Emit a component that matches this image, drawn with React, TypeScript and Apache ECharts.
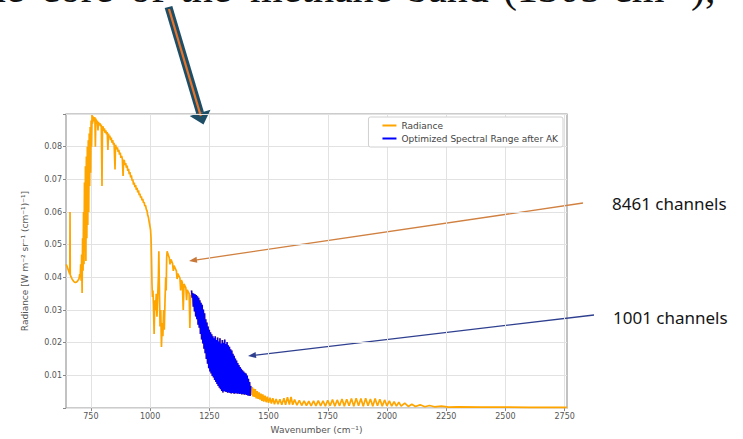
import React, { useEffect, useRef } from "react";
import * as echarts from "echarts";

type Pt = [number, number];

const xTickValues = [750, 1000, 1250, 1500, 1750, 2000, 2250, 2500, 2750];
const seriesNames = ["Radiance", "Optimized Spectral Range after AK"];
const annotationLabels = ["8461 channels", "1001 channels"];
const headlineWords: [string, number][] = [
  ["the", -27], ["core", 41], ["of", 130], ["the", 180], ["methane", 250],
  ["band", 407], ["(1305", 503], ["cm⁻¹),", 613],
];

// CO2 band (645-760 cm-1)
const radianceCO2Band: Pt[] = [
  [645, 0.044], [648, 0.0436], [652, 0.0428], [655, 0.0422], [658, 0.0416], [661, 0.041],
  [662, 0.06], [663, 0.0408], [666, 0.0402], [670, 0.0396], [675, 0.039], [680, 0.0386],
  [685, 0.0384], [690, 0.0386], [695, 0.039], [700, 0.0396], [703, 0.041], [705, 0.04],
  [707, 0.044], [709, 0.039], [711, 0.047], [713, 0.0352], [715, 0.052], [717, 0.042],
  [719, 0.06], [721, 0.044], [723, 0.069], [725, 0.048], [727, 0.074], [729, 0.045],
  [731, 0.077], [733, 0.052], [735, 0.08], [737, 0.056], [739, 0.082], [741, 0.06],
  [743, 0.084], [745, 0.068], [747, 0.086], [749, 0.072], [751, 0.088], [753, 0.08],
  [755, 0.0897], [757, 0.087], [759, 0.0893],
];

// atmospheric window (760-1010 cm-1)
const radianceWindow: Pt[] = [
  [761, 0.0884], [764, 0.0878], [767, 0.089], [769, 0.08], [771, 0.0886], [774, 0.0872],
  [777, 0.088], [780, 0.085], [782, 0.0876], [785, 0.0866], [788, 0.0872], [791, 0.0862],
  [794, 0.0868], [797, 0.068], [799, 0.086], [801, 0.0862], [804, 0.0848], [807, 0.0856],
  [810, 0.0842], [813, 0.085], [816, 0.0838], [819, 0.0845], [822, 0.079], [824, 0.084],
  [827, 0.0828], [830, 0.0834], [833, 0.082], [836, 0.0828], [839, 0.0812], [842, 0.082],
  [845, 0.0806], [848, 0.0812], [852, 0.073], [854, 0.0806], [856, 0.0806], [859, 0.0792],
  [862, 0.0798], [865, 0.0784], [868, 0.079], [871, 0.0776], [874, 0.0782], [877, 0.0766],
  [880, 0.0772], [883, 0.0762], [886, 0.071], [888, 0.0758], [891, 0.0758], [894, 0.0744],
  [897, 0.075], [900, 0.0736], [903, 0.0742], [906, 0.0726], [909, 0.0732], [912, 0.0716],
  [915, 0.0722], [918, 0.0706], [921, 0.0712], [924, 0.0696], [927, 0.07], [930, 0.0684],
  [933, 0.069], [936, 0.0676], [939, 0.0682], [942, 0.0668], [945, 0.0674], [948, 0.066],
  [951, 0.0666], [954, 0.0652], [957, 0.0656], [960, 0.0644], [963, 0.0648], [966, 0.0636],
  [969, 0.064], [972, 0.0628], [975, 0.063], [978, 0.0618], [981, 0.062], [984, 0.0608],
  [987, 0.0604], [990, 0.059], [993, 0.0584], [996, 0.057], [999, 0.0558], [1002, 0.0545],
  [1004, 0.052], [1006, 0.046], [1008, 0.038], [1010, 0.034],
];

// ozone band (1010-1072 cm-1)
const radianceOzone: Pt[] = [
  [1012, 0.036], [1014, 0.032], [1017, 0.0227], [1020, 0.033], [1023, 0.03], [1026, 0.035],
  [1029, 0.028], [1032, 0.034], [1035, 0.04], [1037, 0.048], [1039, 0.038], [1042, 0.025],
  [1045, 0.03], [1048, 0.0187], [1051, 0.026], [1054, 0.022], [1057, 0.03], [1060, 0.024],
  [1063, 0.033], [1066, 0.04], [1068, 0.036], [1070, 0.046], [1072, 0.048],
];

// before the AK-optimised range (1072-1175 cm-1)
const radianceBeforeAK: Pt[] = [
  [1075, 0.0472], [1078, 0.0466], [1081, 0.046], [1084, 0.044], [1087, 0.0455], [1091, 0.045],
  [1095, 0.0442], [1098, 0.042], [1101, 0.0436], [1106, 0.0428], [1111, 0.042], [1114, 0.0395],
  [1117, 0.0412], [1121, 0.0405], [1126, 0.0398], [1129, 0.036], [1132, 0.0392], [1136, 0.0385],
  [1140, 0.03], [1143, 0.038], [1147, 0.0374], [1151, 0.0368], [1154, 0.033], [1157, 0.0362],
  [1161, 0.0356], [1165, 0.035], [1168, 0.0245], [1171, 0.0346], [1174, 0.034],
];

// optimized spectral range after AK (1175-1425 cm-1)
const akRange: Pt[] = [
  [1175, 0.036], [1177.5, 0.0338], [1180, 0.0352], [1182.5, 0.031], [1185, 0.035], [1187.5, 0.0296],
  [1190, 0.0348], [1192.5, 0.028], [1195, 0.0346], [1197.5, 0.0272], [1200, 0.0342], [1202.5, 0.0255],
  [1205, 0.0338], [1207.5, 0.0246], [1210, 0.033], [1212.5, 0.0227], [1215, 0.0322], [1217.5, 0.021],
  [1220, 0.0316], [1222.5, 0.0198], [1225, 0.0302], [1227.5, 0.0182], [1230, 0.029], [1232.5, 0.0168],
  [1235, 0.0272], [1237.5, 0.015], [1240, 0.0262], [1242.5, 0.0136], [1245, 0.025], [1247.5, 0.0122],
  [1250, 0.024], [1252.5, 0.0112], [1255, 0.0232], [1257.5, 0.0106], [1260, 0.0226], [1262.5, 0.0098],
  [1265, 0.022], [1267.5, 0.0094], [1270, 0.0214], [1272.5, 0.0086], [1275, 0.022], [1277.5, 0.008],
  [1280, 0.0208], [1282.5, 0.0074], [1285, 0.0216], [1287.5, 0.0068], [1290, 0.0204], [1292.5, 0.0062],
  [1295, 0.0214], [1297.5, 0.0058], [1300, 0.0198], [1302.5, 0.0052], [1305, 0.0208], [1307.5, 0.0048],
  [1310, 0.02], [1312.5, 0.0052], [1315, 0.021], [1317.5, 0.005], [1320, 0.0196], [1322.5, 0.0049],
  [1325, 0.0202], [1327.5, 0.0047], [1330, 0.0192], [1332.5, 0.0048], [1335, 0.0188], [1337.5, 0.0046],
  [1340, 0.018], [1342.5, 0.0045], [1345, 0.0176], [1347.5, 0.0046], [1350, 0.0166], [1352.5, 0.0045],
  [1355, 0.016], [1357.5, 0.0044], [1360, 0.0152], [1362.5, 0.0046], [1365, 0.0146], [1367.5, 0.0044],
  [1370, 0.0138], [1372.5, 0.0045], [1375, 0.0132], [1377.5, 0.0043], [1380, 0.0126], [1382.5, 0.0044],
  [1385, 0.012], [1387.5, 0.0042], [1390, 0.0116], [1392.5, 0.0043], [1395, 0.0112], [1397.5, 0.0041],
  [1400, 0.0108], [1402.5, 0.0042], [1405, 0.0106], [1407.5, 0.004], [1410, 0.01], [1412.5, 0.0039],
  [1415, 0.009], [1417.5, 0.0038], [1420, 0.008], [1422.5, 0.0037], [1425, 0.0068],
];

// after the AK-optimised range (1425-2760 cm-1)
const radianceAfterAK: Pt[] = [
  [1428, 0.004], [1431, 0.0064], [1434, 0.0036], [1437, 0.006], [1440, 0.0034], [1444, 0.0058],
  [1448, 0.003], [1452, 0.0052], [1456, 0.0028], [1460, 0.0048], [1464, 0.0026], [1468, 0.0044],
  [1472, 0.0022], [1476, 0.0042], [1480, 0.002], [1485, 0.0038], [1490, 0.0018], [1495, 0.0035],
  [1500, 0.0016], [1506, 0.0032], [1512, 0.0014], [1518, 0.003], [1525, 0.0012], [1532, 0.0028],
  [1540, 0.0012], [1548, 0.0027], [1556, 0.001], [1565, 0.003], [1572, 0.001], [1580, 0.0033],
  [1588, 0.0011], [1595, 0.0034], [1602, 0.001], [1610, 0.0026], [1620, 0.0009], [1630, 0.0024],
  [1640, 0.0008], [1650, 0.0022], [1660, 0.0008], [1670, 0.0021], [1680, 0.0007], [1690, 0.0022],
  [1700, 0.0007], [1710, 0.0023], [1720, 0.0007], [1730, 0.0022], [1740, 0.0006], [1750, 0.0024],
  [1760, 0.0007], [1770, 0.0026], [1780, 0.0006], [1790, 0.0025], [1800, 0.0007], [1810, 0.0028],
  [1820, 0.0006], [1830, 0.0027], [1840, 0.0007], [1850, 0.0029], [1860, 0.0006], [1870, 0.003],
  [1880, 0.0007], [1890, 0.0029], [1900, 0.0006], [1910, 0.003], [1920, 0.0007], [1930, 0.0028],
  [1940, 0.0006], [1950, 0.0029], [1960, 0.0007], [1970, 0.0027], [1980, 0.0006], [1990, 0.0025],
  [2000, 0.0007], [2010, 0.0022], [2020, 0.0006], [2030, 0.002], [2040, 0.0006], [2050, 0.0018],
  [2060, 0.0006], [2075, 0.0015], [2090, 0.0005], [2105, 0.0012], [2120, 0.0005], [2140, 0.001],
  [2160, 0.0004], [2180, 0.0008], [2200, 0.0004], [2230, 0.0006], [2260, 0.0003], [2300, 0.0004],
  [2400, 0.0003], [2500, 0.0003], [2600, 0.0002], [2700, 0.0002], [2760, 0.0002],
];

const radiance: Pt[] = [
  ...radianceCO2Band, ...radianceWindow, ...radianceOzone, ...radianceBeforeAK,
  ...akRange, ...radianceAfterAK,
];

const DARK = "#1e4d66";
const ARROW_ORANGE = "#e8742a";

function buildGraphic() {
  const g: any[] = [];
  headlineWords.forEach(([w, x]) => {
    g.push({
      type: "text", x, y: -12, silent: true,
      style: { text: w, fill: "#111", fontSize: 42, fontFamily: "Liberation Serif", align: "left", verticalAlign: "middle" },
    });
  });
  // big block arrow
  g.push({ type: "polygon", silent: true, shape: { points: [[172.3, 5.9], [203.9, 111.9], [196.3, 114.1], [164.7, 8.1]] }, style: { fill: DARK } });
  g.push({ type: "polygon", silent: true, shape: { points: [[210.5, 109.8], [203.5, 124.5], [189.7, 116.1]] }, style: { fill: DARK } });
  g.push({ type: "line", silent: true, shape: { x1: 169, y1: 9, x2: 200.8, y2: 116 }, style: { stroke: ARROW_ORANGE, lineWidth: 2.2 } });
  // orange annotation arrow
  g.push({ type: "line", silent: true, shape: { x1: 583, y1: 203, x2: 196.9, y2: 259.8 }, style: { stroke: "#d08040", lineWidth: 1.3 } });
  g.push({ type: "polygon", silent: true, shape: { points: [[197.3, 262.8], [189, 261], [196.5, 256.8]] }, style: { fill: "#c87838" } });
  // blue annotation arrow
  g.push({ type: "line", silent: true, shape: { x1: 594, y1: 315, x2: 255.9, y2: 355.1 }, style: { stroke: "#2f3f8f", lineWidth: 1.3 } });
  g.push({ type: "polygon", silent: true, shape: { points: [[256.3, 358.1], [248, 356], [255.6, 352.1]] }, style: { fill: "#2f3f8f" } });
  // channel labels
  g.push({ type: "text", x: 612, y: 203, silent: true, style: { text: annotationLabels[0], fill: "#151515", fontSize: 17, fontFamily: "Noto Sans", align: "left", verticalAlign: "middle" } });
  g.push({ type: "text", x: 613, y: 317, silent: true, style: { text: annotationLabels[1], fill: "#151515", fontSize: 17, fontFamily: "Noto Sans", align: "left", verticalAlign: "middle" } });
  return g;
}

export default function App() {
  const ref = useRef<HTMLDivElement>(null);
  useEffect(() => {
    const chart = echarts.init(ref.current!, null, { renderer: "svg" });
    const tickFont = { fontSize: 8, color: "#555", fontFamily: "DejaVu Sans" };
    const nameFont = { fontSize: 9, color: "#555", fontFamily: "DejaVu Sans" };
    chart.setOption({
      animation: false,
      backgroundColor: "#fff",
      textStyle: { fontFamily: "DejaVu Sans" },
      grid: { left: 66, top: 114, right: 176, bottom: 27, show: true, borderColor: "#9a9a9a", borderWidth: 1.2, backgroundColor: "transparent" },
      legend: {
        show: true, orient: "vertical", right: 180, top: 117, itemWidth: 14, itemHeight: 2, itemGap: 4,
        icon: "rect", textStyle: { fontSize: 9, color: "#444", fontFamily: "DejaVu Sans" },
        borderColor: "#d0d0d0", borderWidth: 1, borderRadius: 2, padding: [4, 5, 4, 14],
        backgroundColor: "#fff", data: seriesNames,
      },
      xAxis: {
        type: "value", min: 645, max: 2760,
        name: "Wavenumber (cm⁻¹)", nameLocation: "middle", nameGap: 15, nameTextStyle: nameFont,
        axisLine: { show: false },
        axisTick: { show: true, customValues: xTickValues, length: 3, lineStyle: { color: "#888" } },
        axisLabel: { customValues: xTickValues, margin: 4, formatter: (v: number) => String(v), ...tickFont },
        splitLine: { show: false },
      },
      yAxis: {
        type: "value", min: 0, max: 0.09, interval: 0.01,
        name: "Radiance [W m⁻² sr⁻¹ (cm⁻¹)⁻¹]", nameLocation: "middle", nameGap: 37, nameRotate: 90, nameTextStyle: nameFont,
        axisLine: { show: false },
        axisTick: { show: true, length: 3, lineStyle: { color: "#888" } },
        axisLabel: {
          margin: 4, ...tickFont,
          formatter: (v: number) => (v < 0.0001 || v > 0.0895 ? "" : v.toFixed(2)),
        },
        splitLine: { show: true, lineStyle: { color: "#e2e2e2", width: 1 } },
      },
      series: [
        {
          name: seriesNames[0], type: "line", data: radiance, showSymbol: false, symbol: "none",
          lineStyle: { color: "#ffa500", width: 1.7 }, itemStyle: { color: "#ffa500" }, z: 2,
          markLine: {
            silent: true, symbol: ["none", "none"], label: { show: false }, z: 1,
            lineStyle: { color: "#e2e2e2", width: 1, type: "solid" },
            emphasis: { disabled: true },
            data: xTickValues.map((v) => ({ xAxis: v })),
          },
        },
        {
          name: seriesNames[1], type: "line", data: akRange, showSymbol: false, symbol: "none",
          lineStyle: { color: "#0000ff", width: 1.5 }, itemStyle: { color: "#0000ff" }, z: 3,
        },
      ],
      graphic: buildGraphic(),
    });
    return () => chart.dispose();
  }, []);
  return (
    <div
      ref={ref}
      style={{ position: "fixed", left: 0, top: 0, width: 743, height: 439, background: "#fff" }}
    />
  );
}
